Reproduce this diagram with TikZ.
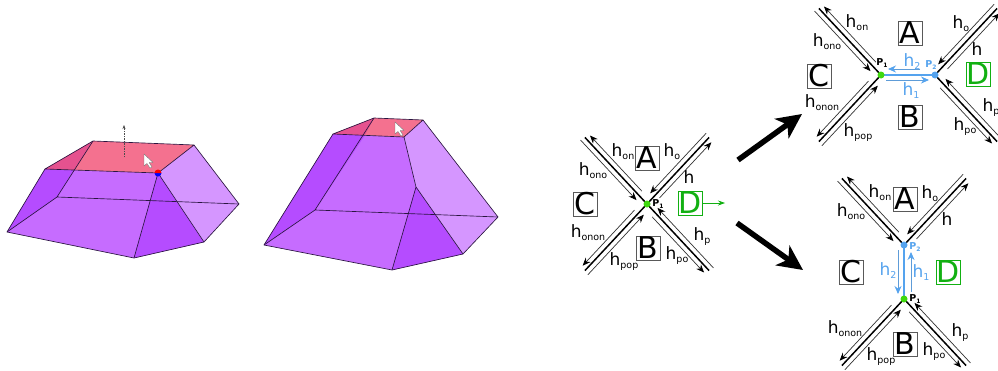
\documentclass[tikz,border=0pt]{standalone}
\usepackage{fontspec}
\setmainfont{DejaVu Sans}
\usetikzlibrary{arrows.meta}
\definecolor{pmid}{HTML}{C66CFF}
\definecolor{pdark}{HTML}{B54CFF}
\definecolor{plight}{HTML}{D596FF}
\definecolor{rosem}{HTML}{F4718F}
\definecolor{rosed}{HTML}{E5528F}
\definecolor{edgec}{HTML}{2A1540}
\definecolor{bluec}{HTML}{55A3EE}
\definecolor{greenc}{HTML}{12B012}
\definecolor{dotg}{HTML}{3FD80E}
\newcommand{\hl}[1]{h\raisebox{-3pt}{\fontsize{9.5}{10}\selectfont #1}}
\newcommand{\pl}[1]{\textbf{P\raisebox{-1.5pt}{\fontsize{6}{7}\selectfont #1}}}
\tikzset{
  x=1pt,y=-1pt,
  edge/.style={draw=edgec,line width=0.65pt,line join=round},
  lab/.style={inner sep=0pt,font=\fontsize{17}{18}\selectfont},
  sq/.style={draw=black!65,line width=0.9pt,minimum size=24pt,inner sep=0pt,font=\fontsize{30}{30}\selectfont},
  sqg/.style={sq,draw=greenc,text=greenc},
  thickarm/.style={line width=1.5pt,black},
  thinarm/.style={line width=0.7pt,black!80,-{Stealth[length=8pt,width=6.5pt,black]}},
  bluearr/.style={line width=0.9pt,bluec!80!gray,-{Stealth[length=8pt,width=7pt,bluec]}},
  bigarr/.style={line width=5.5pt,black,-{Stealth[length=25pt,width=24pt,inset=7pt]}},
  curs/.style={fill=white,draw=black!55,line width=0.4pt,line join=round},
  pg/.style={inner sep=0pt,font=\fontsize{9.5}{10}\selectfont},
}
\newcommand{\arm}[2]{%
  \begin{scope}[shift={(#1)},rotate=#2]
    \draw[thickarm] (0,0) -- (91,0);
    \draw[thinarm] (13,5) -- (89,5);
    \draw[thinarm] (92,-5) -- (10,-5);
  \end{scope}}
\newcommand{\cursorat}[1]{%
  \begin{scope}[shift={(#1)}]
    \draw[curs] (0,0) -- (0,12) -- (3,9.5) -- (6,14) -- (8,13) -- (5.2,8.6) -- (9,8.4) -- cycle;
  \end{scope}}
\begin{document}
\begin{tikzpicture}
\useasboundingbox (0,0) rectangle (998,370);
\fill[white] (0,0) rectangle (998,370);

% polyhedron 1
\coordinate (a1) at (93,141);  \coordinate (a2) at (194,145);
\coordinate (a3) at (158,173); \coordinate (a4) at (45,169);
\coordinate (a5) at (7,232);   \coordinate (a6) at (134,258);
\coordinate (a7) at (204,242); \coordinate (a8) at (239,204);
\coordinate (a9) at (57,197);  \coordinate (a10) at (74,170);
\fill[pmid] (a4) -- (a3) -- (a7) -- (a6) -- (a5) -- cycle;
\fill[pdark] (a4) -- (a10) -- (a9) -- (a5) -- cycle;
\fill[pdark] (a3) -- (a7) -- (a6) -- cycle;
\fill[plight] (a3) -- (a2) -- (a8) -- (a7) -- cycle;
\fill[rosem] (a1) -- (a2) -- (a3) -- (a4) -- cycle;
\fill[rosed] (a1) -- (a10) -- (a4) -- cycle;
\draw[edge] (a1) -- (a2) -- (a3) -- (a4) -- cycle;
\draw[edge] (a4) -- (a5) -- (a6) -- (a7) -- (a8) -- (a2);
\draw[edge] (a3) -- (a6) (a3) -- (a7);
\draw[edge] (a1) -- (a9) -- (a5) (a9) -- (a8);
\coordinate (v1) at (124,157); \coordinate (v2) at (124,125);
\draw[line width=0.5pt,black!70,dash pattern=on 1.5pt off 1pt,-{Stealth[length=4pt,width=3pt]}] (v1) -- (v2);
\cursorat{144,154}
\fill[blue] (154.5,173) arc[start angle=180,end angle=360,radius=3.5pt];
\fill[red] (154.5,173) arc[start angle=180,end angle=0,radius=3.5pt];

% polyhedron 2
\coordinate (b1) at (374,118); \coordinate (b2) at (423,120);
\coordinate (b3) at (404,137); \coordinate (b4) at (333,134);
\coordinate (b5) at (264,245); \coordinate (b6) at (392,270);
\coordinate (b7) at (463,254); \coordinate (b8) at (498,217);
\coordinate (b9) at (315,210); \coordinate (b10) at (416,187);
\coordinate (b11) at (365,135);
\fill[pmid] (b4) -- (b3) -- (b10) -- (b7) -- (b6) -- (b5) -- cycle;
\fill[pdark] (b4) -- (b11) -- (b9) -- (b5) -- cycle;
\fill[pdark] (b10) -- (b7) -- (b6) -- cycle;
\fill[plight] (b3) -- (b2) -- (b8) -- (b7) -- (b10) -- cycle;
\fill[rosem] (b1) -- (b2) -- (b3) -- (b4) -- cycle;
\fill[rosed] (b1) -- (b11) -- (b4) -- cycle;
\draw[edge] (b1) -- (b2) -- (b3) -- (b4) -- cycle;
\draw[edge] (b4) -- (b5) -- (b6) -- (b7) -- (b8) -- (b2);
\draw[edge] (b3) -- (b10) -- (b6) (b10) -- (b7);
\draw[edge] (b1) -- (b9) -- (b5) (b9) -- (b8);
\cursorat{395,122}

% cross 1
\coordinate (c1) at (647,204);
\arm{c1}{133}\arm{c1}{47}\arm{c1}{-47}\arm{c1}{-133}
\fill[dotg] (c1) circle[radius=3.5pt];
\node[pg] (c1p) at (658,204) {\pl{1}};
\node[sq] (c1A) at (647,158) {A};
\node[sq] (c1B) at (648,248) {B};
\node[sq] (c1C) at (585,204) {C};
\node[sqg] (c1D) at (690,203) {D};
\coordinate (c1e) at (725,203);
\draw[greenc,line width=0.8pt,-{Stealth[length=7pt,width=5pt]}] (c1D) -- (c1e);
\node[lab] (l11) at (623,152) {\hl{on}};
\node[lab] (l12) at (593,171) {\hl{ono}};
\node[lab] (l13) at (672,152) {\hl{o}};
\node[lab] (l14) at (689,177) {h};
\node[lab] (l15) at (588,233) {\hl{onon}};
\node[lab] (l16) at (624,262) {\hl{pop}};
\node[lab] (l17) at (702,237) {\hl{p}};
\node[lab] (l18) at (677,256) {\hl{po}};

% big arrows
\coordinate (u1) at (738,160); \coordinate (u2) at (802,114);
\coordinate (d1) at (737,223); \coordinate (d2) at (803,270);
\draw[bigarr] (u1) -- (u2);
\draw[bigarr] (d1) -- (d2);

% cross 2
\coordinate (p1) at (881,75); \coordinate (p2) at (935,75);
\arm{p1}{133}\arm{p1}{-133}\arm{p2}{47}\arm{p2}{-47}
\draw[bluec,line width=1.8pt] (p1) -- (p2);
\coordinate (t1) at (920,69); \coordinate (t2) at (888,69);
\coordinate (t3) at (886,80); \coordinate (t4) at (929,80);
\draw[bluearr] (t1) -- (t2);
\draw[bluearr] (t3) -- (t4);
\fill[dotg] (p1) circle[radius=3.5pt];
\fill[bluec] (p2) circle[radius=3.5pt];
\node[pg] (p1l) at (882,63) {\pl{1}};
\node[pg,text=bluec] (p2l) at (931,65) {\pl{2}};
\node[lab,text=bluec] (h2a) at (912,62) {\hl{2}};
\node[lab,text=bluec] (h1a) at (911,91) {\hl{1}};
\node[sq] (A2) at (910,33) {A};
\node[sq] (B2) at (910,117) {B};
\node[sq] (C2) at (819,76) {C};
\node[sqg] (D2) at (978,74) {D};
\node[lab] (l21) at (857,23) {\hl{on}};
\node[lab] (l22) at (827,42) {\hl{ono}};
\node[lab] (l23) at (961,24) {\hl{o}};
\node[lab] (l24) at (977,49) {h};
\node[lab] (l25) at (822,103) {\hl{onon}};
\node[lab] (l26) at (858,133) {\hl{pop}};
\node[lab] (l27) at (991,108) {\hl{p}};
\node[lab] (l28) at (965,127) {\hl{po}};

% cross 3
\coordinate (q2) at (904,245); \coordinate (q1) at (904,299);
\arm{q2}{133}\arm{q2}{47}\arm{q1}{-47}\arm{q1}{-133}
\draw[bluec,line width=1.8pt] (q1) -- (q2);
\coordinate (s1) at (898,250); \coordinate (s2) at (898,294);
\coordinate (s3) at (911,292); \coordinate (s4) at (911,252);
\draw[bluearr] (s1) -- (s2);
\draw[bluearr] (s3) -- (s4);
\fill[dotg] (q1) circle[radius=3.5pt];
\fill[bluec] (q2) circle[radius=3.5pt];
\node[pg] (q1l) at (915,299) {\pl{1}};
\node[pg,text=bluec] (q2l) at (915,247) {\pl{2}};
\node[lab,text=bluec] (h2b) at (888,271) {\hl{2}};
\node[lab,text=bluec] (h1b) at (921,273) {\hl{1}};
\node[sq] (A3) at (905,199) {A};
\node[sq] (B3) at (905,344) {B};
\node[sq] (C3) at (851,272) {C};
\node[sqg] (D3) at (948,272) {D};
\node[lab] (l31) at (880,193) {\hl{on}};
\node[lab] (l32) at (851,212) {\hl{ono}};
\node[lab] (l33) at (930,194) {\hl{o}};
\node[lab] (l34) at (947,219) {h};
\node[lab] (l35) at (845,329) {\hl{onon}};
\node[lab] (l36) at (881,357) {\hl{pop}};
\node[lab] (l37) at (960,333) {\hl{p}};
\node[lab] (l38) at (934,352) {\hl{po}};
\end{tikzpicture}
\end{document}
